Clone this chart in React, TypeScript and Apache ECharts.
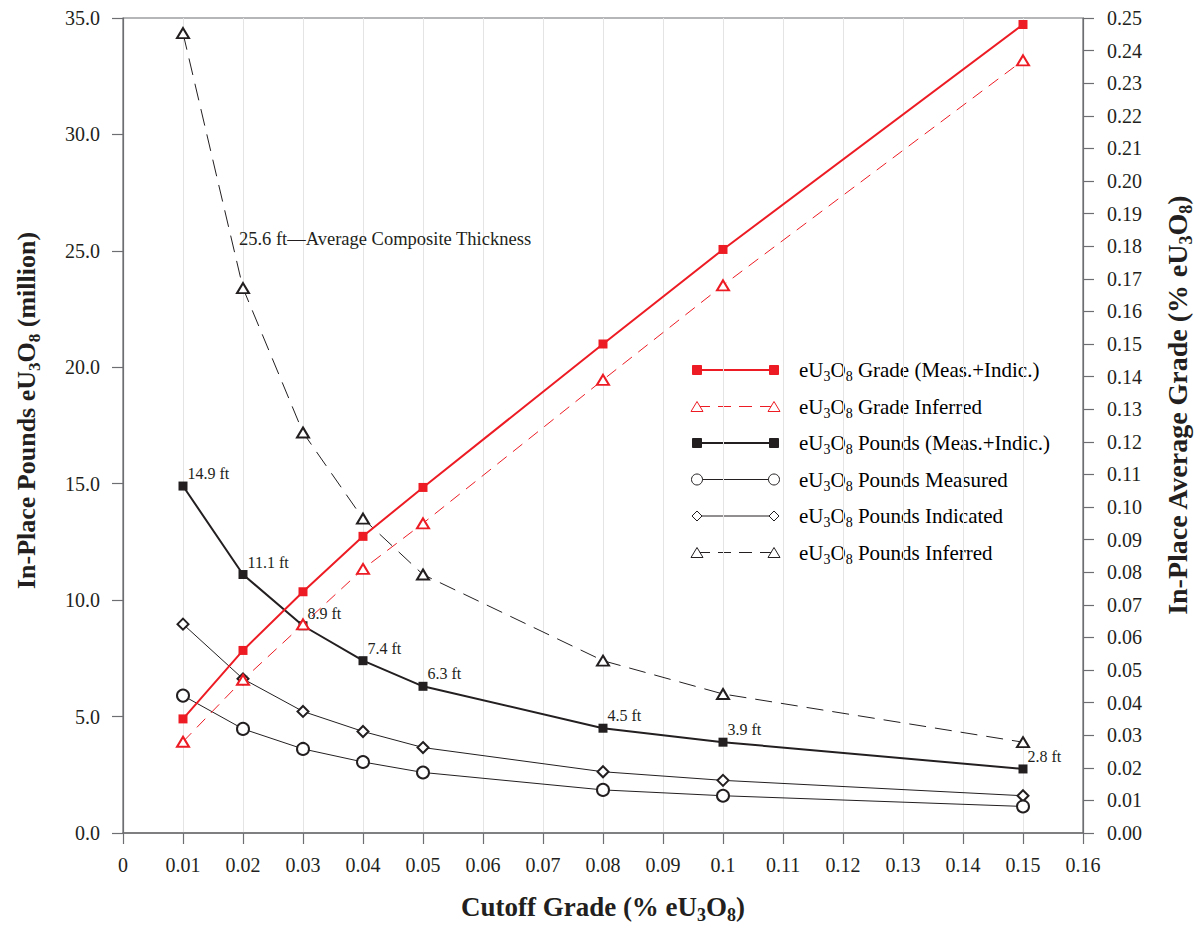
import React, { useEffect, useRef } from "react";
import * as echarts from "echarts";

// ---------- data ----------
const cutoffGrades = [0.01, 0.02, 0.03, 0.04, 0.05, 0.08, 0.1, 0.15];
const gradeMeasInd = [0.035, 0.056, 0.074, 0.091, 0.106, 0.15, 0.179, 0.248];
const gradeInferred = [0.028, 0.047, 0.064, 0.081, 0.095, 0.139, 0.168, 0.237];
const poundsMeasInd = [14.9, 11.1, 8.9, 7.4, 6.3, 4.5, 3.9, 2.75];
const poundsMeasured = [5.9, 4.47, 3.61, 3.05, 2.6, 1.85, 1.6, 1.14];
const poundsIndicated = [8.97, 6.62, 5.22, 4.36, 3.67, 2.63, 2.26, 1.6];
const poundsInferred = [34.35, 23.4, 17.2, 13.5, 11.1, 7.4, 5.97, 3.9];
const thicknessLabels = ["14.9 ft", "11.1 ft", "8.9 ft", "7.4 ft", "6.3 ft", "4.5 ft", "3.9 ft", "2.8 ft"];
const compositeNote = "25.6 ft\u2014Average Composite Thickness";
const compositeNoteIndex = 1;

const seriesNames = [
  "eU3O8 Grade (Meas.+Indic.)",
  "eU3O8 Grade Inferred",
  "eU3O8 Pounds (Meas.+Indic.)",
  "eU3O8 Pounds Measured",
  "eU3O8 Pounds Indicated",
  "eU3O8 Pounds Inferred",
];

// ---------- styling ----------
const FONT = "Liberation Serif";
const INK = "#231f20";
const RED = "#ed1c24";
const AXIS = "#6d6e71";
const GRID = "#e4e4e4";

function rt(s: string): string {
  const parts = s.split("eU3O8");
  return parts.map((p) => (p ? `{n|${p}}` : "")).join("{n|eU}{s|3}{n|O}{s|8}");
}

function richStyle(size: number, bold: boolean) {
  const sub = Math.round(size * 0.65);
  return {
    n: { fontSize: size, fontFamily: FONT, fontWeight: bold ? "bold" : "normal", color: INK, lineHeight: Math.round(size * 1.2) },
    s: {
      fontSize: sub,
      fontFamily: FONT,
      fontWeight: bold ? "bold" : "normal",
      color: INK,
      lineHeight: sub,
      padding: [Math.round(size * 0.6), 0, 0, 0],
    },
  };
}

const pairs = (ys: number[]) => cutoffGrades.map((x, i) => [x, ys[i]]);

function buildLegend() {
  const rows = [
    { color: RED, width: 2, dash: null as number[] | null, sym: "rect", fill: RED, size: 9 },
    { color: RED, width: 1, dash: [13, 8], sym: "triangle", fill: "#fff", size: 11 },
    { color: INK, width: 2, dash: null, sym: "rect", fill: INK, size: 9 },
    { color: INK, width: 1, dash: null, sym: "circle", fill: "#fff", size: 11 },
    { color: INK, width: 1, dash: null, sym: "diamond", fill: "#fff", size: 10 },
    { color: INK, width: 1, dash: [13, 8], sym: "triangle", fill: "#fff", size: 11 },
  ];
  const x1 = 697;
  const x2 = 774;
  const y0 = 370;
  const dy = 36.5;
  const els: any[] = [];
  rows.forEach((r, i) => {
    const y = y0 + i * dy;
    els.push({
      type: "line",
      shape: { x1, y1: y, x2, y2: y },
      style: { stroke: r.color, lineWidth: r.width, lineDash: r.dash || undefined },
      silent: true,
    });
    [x1, x2].forEach((cx) => {
      const h = r.size / 2;
      const style = { fill: r.fill, stroke: r.color, lineWidth: 1 };
      if (r.sym === "rect") {
        els.push({ type: "rect", shape: { x: cx - h, y: y - h, width: r.size, height: r.size }, style, z: 10 });
      } else if (r.sym === "circle") {
        els.push({ type: "circle", shape: { cx, cy: y, r: h }, style, z: 10 });
      } else if (r.sym === "diamond") {
        els.push({ type: "polygon", shape: { points: [[cx, y - h], [cx + h, y], [cx, y + h], [cx - h, y]] }, style, z: 10 });
      } else {
        els.push({ type: "polygon", shape: { points: [[cx, y - 5], [cx + 6, y + 5], [cx - 6, y + 5]] }, style, z: 10 });
      }
    });
    els.push({
      type: "text",
      x: 799,
      y,
      style: { text: rt(seriesNames[i]), rich: richStyle(21, false), align: "left", verticalAlign: "middle", fontFamily: FONT },
    });
  });
  return els;
}

export default function App() {
  const ref = useRef<HTMLDivElement>(null);
  useEffect(() => {
    document.body.style.margin = "0";
    const chart = echarts.init(ref.current!, null, { renderer: "svg" });
    const labelText = { fontFamily: FONT, fontSize: 20, color: INK };
    const option: any = {
      animation: false,
      backgroundColor: "#fff",
      textStyle: { fontFamily: FONT, color: INK },
      grid: { left: 123, right: 111, top: 18, bottom: 94, show: true, borderColor: AXIS, borderWidth: 1.2, outerBoundsMode: "none" },
      xAxis: {
        type: "value",
        min: 0,
        max: 0.16,
        interval: 0.01,
        name: rt("Cutoff Grade (% eU3O8)"),
        nameLocation: "middle",
        nameGap: 58,
        nameTextStyle: { rich: richStyle(27, true), fontFamily: FONT },
        axisLine: { lineStyle: { color: AXIS, width: 1.5 } },
        axisTick: { length: 11, lineStyle: { color: AXIS, width: 1.2 } },
        axisLabel: { ...labelText, margin: 22, formatter: (v: number) => (v === 0 ? "0" : String(+v.toFixed(2))) },
        splitLine: { show: true, lineStyle: { color: GRID, width: 1 } },
      },
      yAxis: [
        {
          type: "value",
          min: 0,
          max: 35,
          interval: 5,
          position: "left",
          name: rt("In-Place Pounds eU3O8 (million)"),
          nameLocation: "middle",
          nameGap: 81,
          nameTextStyle: { rich: richStyle(26, true), fontFamily: FONT, padding: [0, 0, 0, 30] },
          axisLine: { show: true, lineStyle: { color: AXIS, width: 1.2 } },
          axisTick: { show: true, length: 11, lineStyle: { color: AXIS, width: 1.2 } },
          axisLabel: { ...labelText, margin: 23, formatter: (v: number) => v.toFixed(1) },
          splitLine: { show: false },
        },
        {
          type: "value",
          min: 0,
          max: 0.25,
          interval: 0.01,
          position: "right",
          name: rt("In-Place Average Grade (% eU3O8)"),
          nameLocation: "middle",
          nameGap: 77,
          nameTextStyle: { rich: richStyle(28, true), fontFamily: FONT, padding: [0, 0, 0, 40] },
          axisLine: { show: true, lineStyle: { color: AXIS, width: 1.2 } },
          axisTick: { show: true, length: 11, lineStyle: { color: AXIS, width: 1.2 } },
          axisLabel: { ...labelText, margin: 24, formatter: (v: number) => v.toFixed(2) },
          splitLine: { show: false },
        },
      ],
      series: [
        {
          name: seriesNames[5],
          type: "line",
          yAxisIndex: 0,
          data: pairs(poundsInferred).map((p, i) =>
            i === compositeNoteIndex
              ? {
                  value: p,
                  label: {
                    show: true,
                    formatter: compositeNote,
                    position: [3, -43],
                    align: "left",
                    verticalAlign: "middle",
                    fontFamily: FONT,
                    fontSize: 18.5,
                    color: INK,
                  },
                }
              : p
          ),
          symbol: "emptyTriangle",
          symbolSize: [12, 10],
          itemStyle: { color: INK, borderColor: INK, borderWidth: 1 },
          lineStyle: { color: INK, width: 1, type: [17, 9] },
        },
        {
          name: seriesNames[4],
          type: "line",
          yAxisIndex: 0,
          data: pairs(poundsIndicated),
          symbol: "emptyDiamond",
          symbolSize: 11,
          itemStyle: { color: INK, borderColor: INK, borderWidth: 1 },
          lineStyle: { color: INK, width: 1 },
        },
        {
          name: seriesNames[3],
          type: "line",
          yAxisIndex: 0,
          data: pairs(poundsMeasured),
          symbol: "emptyCircle",
          symbolSize: 12,
          itemStyle: { color: INK, borderColor: INK, borderWidth: 1 },
          lineStyle: { color: INK, width: 1 },
        },
        {
          name: seriesNames[2],
          type: "line",
          yAxisIndex: 0,
          data: pairs(poundsMeasInd).map((p, i) => ({ value: p, label: { formatter: thicknessLabels[i] } })),
          symbol: "rect",
          symbolSize: 9,
          itemStyle: { color: INK },
          lineStyle: { color: INK, width: 2 },
          label: {
            show: true,
            position: [9, -8],
            align: "left",
            verticalAlign: "middle",
            fontFamily: FONT,
            fontSize: 16,
            color: INK,
          },
        },
        {
          name: seriesNames[1],
          type: "line",
          yAxisIndex: 1,
          data: pairs(gradeInferred),
          symbol: "emptyTriangle",
          symbolSize: [12, 10],
          itemStyle: { color: RED, borderColor: RED, borderWidth: 1 },
          lineStyle: { color: RED, width: 1, type: [12, 8] },
        },
        {
          name: seriesNames[0],
          type: "line",
          yAxisIndex: 1,
          data: pairs(gradeMeasInd),
          symbol: "rect",
          symbolSize: 9,
          itemStyle: { color: RED },
          lineStyle: { color: RED, width: 2 },
        },
      ],
      graphic: buildLegend(),
    };
    chart.setOption(option);
    return () => chart.dispose();
  }, []);
  return <div ref={ref} style={{ position: "absolute", left: 0, top: 0, width: 1194, height: 927 }} />;
}
